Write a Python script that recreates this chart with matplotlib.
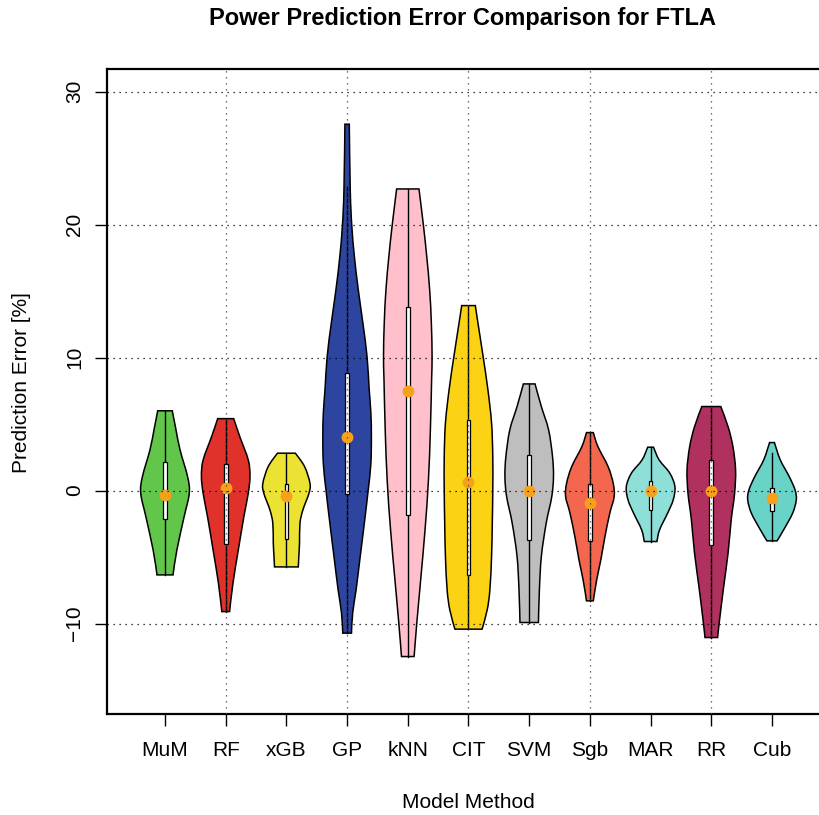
import numpy as np
import matplotlib
matplotlib.use("Agg")
import matplotlib.pyplot as plt
from matplotlib.patches import PathPatch, Rectangle
from matplotlib.path import Path

plt.rcParams["font.family"] = ["Liberation Sans", "DejaVu Sans"]

# nomes dos modelos e cores de preenchimento
metodos = ["MuM", "RF", "xGB", "GP", "kNN", "CIT", "SVM", "Sgb", "MAR", "RR", "Cub"]
cores = ["#61C64A", "#E0312A", "#EBE234", "#2E45A0", "#FFC0CB", "#FBD314",
         "#BEBEBE", "#F2674D", "#8EDFD8", "#B03060", "#6AD3C8"]

# perfil de densidade: níveis de erro e densidade relativa
perfil_y = [
    [6.0, 4.6, 3.06, 1.05, -0.2, -1.95, -4.46, -6.34],
    [5.41, 4.06, 2.3, 1.08, -0.2, -1.95, -4.46, -6.96, -9.1],
    [2.81, 1.8, 0.55, -0.2, -1.45, -2.45, -3.96, -5.0, -5.74],
    [27.55, 22.6, 20.0, 17.6, 15.1, 12.6, 10.1, 7.6, 5.8, 4.1, 2.06, 0.05,
     -2.45, -4.96, -7.47, -9.2, -10.72],
    [22.68, 20.0, 17.6, 15.1, 12.6, 10.1, 8.3, 4.56, 0.8, -2.95, -6.71, -9.97, -12.48],
    [13.91, 12.59, 10.1, 7.57, 5.07, 2.56, 0.05, -2.45, -4.96, -7.47, -8.97, -10.42],
    [8.02, 6.32, 4.56, 2.56, 1.05, -0.45, -2.45, -4.96, -7.47, -9.92],
    [4.36, 3.31, 1.8, 0.55, -0.45, -1.7, -3.46, -5.21, -6.71, -8.29],
    [3.26, 2.31, 1.31, 0.3, -0.7, -1.7, -2.95, -3.83],
    [6.32, 4.81, 3.31, 1.56, -0.2, -2.2, -4.71, -7.22, -9.72, -11.05],
    [3.61, 2.31, 1.05, 0.05, -0.7, -1.7, -2.95, -3.78],
]
perfil_d = [
    [0.30, 0.45, 0.62, 0.93, 1.0, 0.79, 0.49, 0.33],
    [0.33, 0.58, 0.93, 1.0, 0.93, 0.75, 0.52, 0.30, 0.16],
    [0.37, 0.75, 0.97, 0.93, 0.68, 0.56, 0.54, 0.51, 0.49],
    [0.09, 0.13, 0.19, 0.30, 0.46, 0.65, 0.82, 0.91, 0.98, 1.0, 0.98, 0.87,
     0.71, 0.54, 0.37, 0.23, 0.18],
    [0.46, 0.64, 0.78, 0.90, 0.97, 1.0, 0.98, 0.93, 0.85, 0.71, 0.53, 0.37, 0.26],
    [0.28, 0.39, 0.60, 0.80, 0.95, 1.0, 1.0, 0.98, 0.95, 0.88, 0.77, 0.56],
    [0.24, 0.50, 0.80, 0.96, 1.0, 0.93, 0.70, 0.50, 0.42, 0.38],
    [0.14, 0.33, 0.75, 0.96, 1.0, 0.82, 0.62, 0.45, 0.28, 0.14],
    [0.12, 0.35, 0.79, 1.0, 0.93, 0.70, 0.37, 0.26],
    [0.39, 0.69, 0.89, 1.0, 0.96, 0.82, 0.69, 0.51, 0.34, 0.26],
    [0.10, 0.34, 0.71, 0.95, 1.0, 0.85, 0.48, 0.21],
]

# estatísticas do boxplot
q1 = [-2.13, -4.0, -3.63, -0.27, -1.8, -6.34, -3.71, -3.76, -1.45, -4.09, -1.5]
q3 = [2.18, 1.98, 0.48, 8.87, 13.79, 5.32, 2.68, 0.48, 0.75, 2.31, 0.23]
mediana = [-0.35, 0.18, -0.4, 4.06, 7.52, 0.63, -0.02, -0.9, -0.05, -0.02, -0.53]
bigode_inf = [-6.34, -9.1, -5.74, -10.72, -12.48, -10.42, -9.92, -8.29, -3.83, -11.05, -3.78]
bigode_sup = [6.0, 5.41, 2.81, 22.86, 22.68, 13.91, 8.02, 4.36, 3.26, 6.32, 2.81]


def _curva_suave(pts):
    # Catmull-Rom -> segmentos Bezier cúbicos passando pelos pontos lidos
    verts, codes = [], []
    n = len(pts)
    for k in range(n - 1):
        p0 = pts[max(k - 1, 0)]
        p1 = pts[k]
        p2 = pts[k + 1]
        p3 = pts[min(k + 2, n - 1)]
        c1 = p1 + (p2 - p0) / 6.0
        c2 = p2 - (p3 - p1) / 6.0
        verts += [tuple(c1), tuple(c2), tuple(p2)]
        codes += [Path.CURVE4] * 3
    return verts, codes


def _violino(x0, y, d):
    esq = np.column_stack([x0 - d, y])
    dir_ = np.column_stack([x0 + d, y])[::-1]
    verts = [tuple(esq[0])]
    codes = [Path.MOVETO]
    v, c = _curva_suave(esq)
    verts += v
    codes += c
    verts.append(tuple(dir_[0]))
    codes.append(Path.LINETO)
    v, c = _curva_suave(dir_)
    verts += v
    codes += c
    verts.append(tuple(esq[0]))
    codes.append(Path.CLOSEPOLY)
    return Path(verts, codes)


fig = plt.figure(figsize=(8.2, 8.15), dpi=100)
W, H = 820, 815
ax = fig.add_axes([107 / W, 1 - 714 / H, (830 - 107) / W, (714 - 69) / H])

meia_larg = 0.4
meia_caixa = 0.03
for i, nome in enumerate(metodos):
    x0 = i + 1
    y = np.array(perfil_y[i])
    d = np.array(perfil_d[i]) * meia_larg
    ax.add_patch(PathPatch(_violino(x0, y, d), facecolor=cores[i],
                           edgecolor="black", linewidth=1.1, zorder=2))
    ax.plot([x0, x0], [bigode_inf[i], bigode_sup[i]], color="black", lw=1.0, zorder=3)
    ax.add_patch(Rectangle((x0 - meia_caixa, q1[i]), 2 * meia_caixa, q3[i] - q1[i],
                           facecolor="white", edgecolor="black", linewidth=0.9, zorder=4))
    ax.plot(x0, mediana[i], "o", color="#F7A11A", markersize=8.5, mec="none", zorder=5)

ax.set_xlim(0.0445, 11.9555)
ax.set_ylim(-16.8, 31.7)

# grade pontilhada por cima de tudo
for gx in [2, 4, 6, 8, 10]:
    ax.axvline(gx, color="#444444", lw=0.9, linestyle=(0, (1, 3.8)), zorder=6)
for gy in [-10, 0, 10, 20, 30]:
    ax.axhline(gy, color="black", lw=0.9, linestyle=(0, (1, 3.8)), zorder=6)

ax.set_xticks(range(1, 12))
ax.set_xticklabels(metodos, fontsize=15)
ax.set_yticks([-10, 0, 10, 20, 30])
ax.set_yticklabels(["\u221210", "0", "10", "20", "30"], fontsize=15, rotation=90, va="center")
ax.tick_params(axis="x", length=8.6, width=1.0, pad=11)
ax.tick_params(axis="y", length=8.6, width=1.0, pad=8)
ax.spines["right"].set_visible(False)
for s in ax.spines.values():
    s.set_linewidth(1.6)

fig.text(463 / W, 1 - 18 / H, "Power Prediction Error Comparison for FTLA",
         ha="center", va="center", fontsize=17, fontweight="bold")
fig.text(468 / W, 1 - 802 / H, "Model Method", ha="center", va="center", fontsize=15)
fig.text(22 / W, 1 - 383 / H, "Prediction Error [%]", ha="center", va="center",
         fontsize=15, rotation=90)

fig.savefig("out.png", dpi=100)
